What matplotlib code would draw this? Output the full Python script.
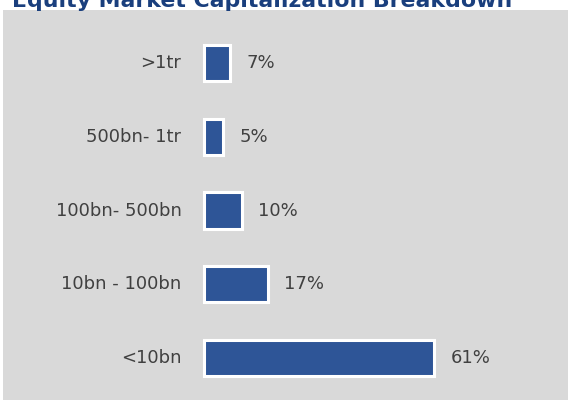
import matplotlib.pyplot as plt

# Datos del gráfico
categorias = ['>1tr', '500bn- 1tr', '100bn- 500bn', '10bn - 100bn', '<10bn']
valores = [7, 5, 10, 17, 61]
etiquetas = ['7%', '5%', '10%', '17%', '61%']

fig = plt.figure(figsize=(5.7, 4), dpi=100)
fig.patch.set_facecolor('white')

# Eje con fondo gris (deja una franja blanca arriba para el título)
ax = fig.add_axes([3 / 570, 0, 565 / 570, 390 / 400])
ax.set_facecolor('#D9D9D9')

posiciones = list(range(len(categorias)))
ax.barh(posiciones, valores, height=0.49, color='#2E5597',
        edgecolor='white', linewidth=2.2)

for pos, val, cat, txt in zip(posiciones, valores, categorias, etiquetas):
    ax.text(-6.0, pos, cat, ha='right', va='center', fontsize=13, color='#404040')
    ax.text(val + 4.3, pos, txt, ha='left', va='center', fontsize=13, color='#404040')

ax.set_xlim(-53.3, 96.5)
ax.set_ylim(4.57, -0.72)
ax.set_xticks([])
ax.set_yticks([])
for s in ax.spines.values():
    s.set_visible(False)

# Título (cortado en la parte superior, como en el original)
fig.text(12 / 570, 1 - 7 / 400, 'Equity Market Capitalization Breakdown',
         ha='left', va='baseline', fontsize=15.8, fontweight='bold', color='#1A3F7D')

fig.savefig('out.png', dpi=100)
